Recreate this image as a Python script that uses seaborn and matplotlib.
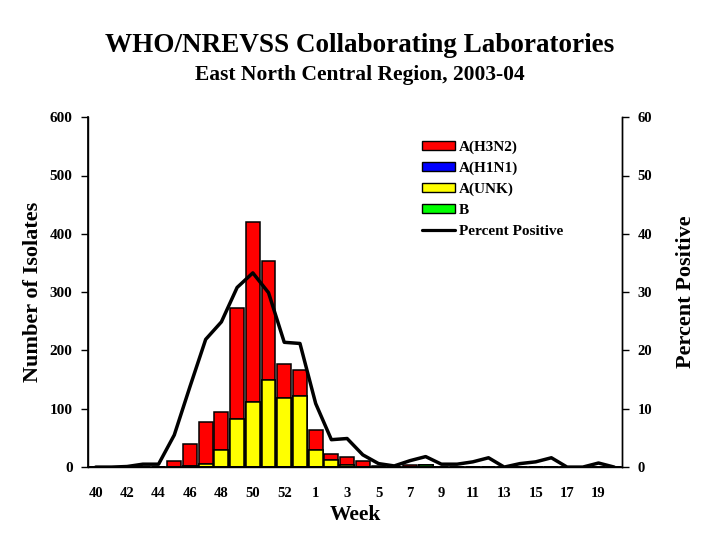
import numpy as np
import pandas as pd
import matplotlib
matplotlib.use("Agg")
import matplotlib.pyplot as plt
import seaborn as sns
from matplotlib.patches import Patch
from matplotlib.lines import Line2D

weeks = [str(w) for w in list(range(40, 54)) + list(range(1, 21))]
h3n2 = [0, 0, 0, 0, 0, 10, 38, 72, 64, 190, 310, 204, 58, 45, 34, 10, 14, 10, 2, 1,
        3, 0, 1, 0, 0, 0, 0, 0, 0, 0, 0, 0, 0, 0]
h1n1 = [0] * 34
unk = [0, 0, 0, 0, 0, 0, 2, 6, 30, 82, 111, 150, 118, 122, 29, 12, 4, 0, 0, 0,
       0, 0, 0, 0, 0, 0, 0, 0, 0, 0, 0, 0, 0, 0]
b = [0, 0, 0, 0, 0, 0, 0, 0, 0, 0, 0, 0, 0, 0, 0, 0, 0, 0, 0, 0,
     0, 3, 0, 0, 0, 0, 0, 0, 0, 0, 0, 0, 0, 0]
pct = [0, 0, 0.1, 0.5, 0.5, 5.5, 13.8, 21.9, 24.9, 30.8, 33.3, 29.9, 21.4, 21.2,
       10.9, 4.7, 4.9, 2.1, 0.6, 0.2, 1.1, 1.8, 0.5, 0.5, 0.9, 1.6, 0.0, 0.6,
       0.9, 1.6, 0.0, 0.0, 0.7, 0.0]
xtick_labels = ["40", "42", "44", "46", "48", "50", "52", "1", "3", "5", "7",
                "9", "11", "13", "15", "17", "19"]

sns.set_theme(style="white")
plt.rcParams['font.family'] = ['Liberation Serif', 'DejaVu Serif']
plt.rcParams['font.weight'] = 'bold'
for k in ["text.color", "axes.labelcolor", "xtick.color", "ytick.color", "axes.edgecolor"]:
    plt.rcParams[k] = "black"

df = pd.DataFrame({"week": weeks, "H3N2": h3n2, "H1N1": h1n1, "UNK": unk, "B": b, "pct": pct})
df["c_b"] = df["B"]
df["c_unk"] = df["c_b"] + df["UNK"]
df["c_h1"] = df["c_unk"] + df["H1N1"]
df["c_h3"] = df["c_h1"] + df["H3N2"]

fig = plt.figure(figsize=(7.2, 5.4), dpi=100)
ax = fig.add_axes([0.122, 0.135, 0.742, 0.648])

layers = [("c_h3", "#FF0000"), ("c_h1", "#0000FF"), ("c_unk", "#FFFF00"), ("c_b", "#00FF00")]
for col, color in layers:
    sns.barplot(data=df, x="week", y=col, order=weeks, color=color, saturation=1,
                width=0.88, edgecolor="black", linewidth=1.1, ax=ax, errorbar=None)

ax.set_ylim(0, 600)
ax.set_xlim(-0.5, 33.5)
ax.set_yticks(range(0, 601, 100))
ax.set_xticks(range(0, 34, 2))
ax.set_xticklabels(xtick_labels)
ax.set_xticks(np.arange(-0.5, 34, 1), minor=True)
ax.tick_params(axis="x", which="major", length=0, pad=14, labelsize=10.5)
ax.tick_params(axis="x", which="minor", length=5, width=1, direction="out", color="black")
ax.tick_params(axis="y", length=5, width=1, direction="out", color="black", labelsize=11, pad=6, left=True)
for lab in ax.get_xticklabels() + ax.get_yticklabels():
    lab.set_fontweight("bold")
ax.set_xlabel("Week", fontsize=15.5, fontweight="bold", labelpad=4)
ax.set_ylabel("Number of Isolates", fontsize=16, fontweight="bold", labelpad=5)
for s in ["left", "bottom", "right"]:
    ax.spines[s].set_visible(True)
    ax.spines[s].set_color("black")
    ax.spines[s].set_linewidth(1)
ax.spines["top"].set_visible(False)

ax2 = ax.twinx()
sns.lineplot(x=np.arange(len(weeks)), y=df["pct"], color="black", linewidth=2.5, ax=ax2)
ax2.set_ylim(0, 60)
ax2.set_xlim(-0.5, 33.5)
ax2.set_yticks(range(0, 61, 10))
ax2.tick_params(axis="y", length=5, width=1, direction="out", color="black", labelsize=10.5, pad=6, right=True)
for lab in ax2.get_yticklabels():
    lab.set_fontweight("bold")
ax2.set_ylabel("Percent Positive", fontsize=16, fontweight="bold", labelpad=17)
ax2.spines["top"].set_visible(False)
ax2.spines["right"].set_color("black")
ax2.spines["right"].set_linewidth(1)

handles = [Patch(facecolor="#FF0000", edgecolor="black", label="A(H3N2)"),
           Patch(facecolor="#0000FF", edgecolor="black", label="A(H1N1)"),
           Patch(facecolor="#FFFF00", edgecolor="black", label="A(UNK)"),
           Patch(facecolor="#00FF00", edgecolor="black", label="B"),
           Line2D([0], [0], color="black", linewidth=2.3, label="Percent Positive")]
leg = ax2.legend(handles=handles, loc="upper left", bbox_to_anchor=(0.625, 0.933), frameon=False,
                 prop={"family": "Liberation Serif", "weight": "bold", "size": 11},
                 handlelength=2.15, handleheight=0.5, labelspacing=0.5, handletextpad=0.28,
                 borderaxespad=0, borderpad=0)

fig.text(0.5, 0.915, "WHO/NREVSS Collaborating Laboratories", ha="center", va="center",
         fontsize=19.5, fontweight="bold")
fig.text(0.5, 0.862, "East North Central Region, 2003-04", ha="center", va="center",
         fontsize=15.5, fontweight="bold")

fig.savefig("out.png", dpi=100)
